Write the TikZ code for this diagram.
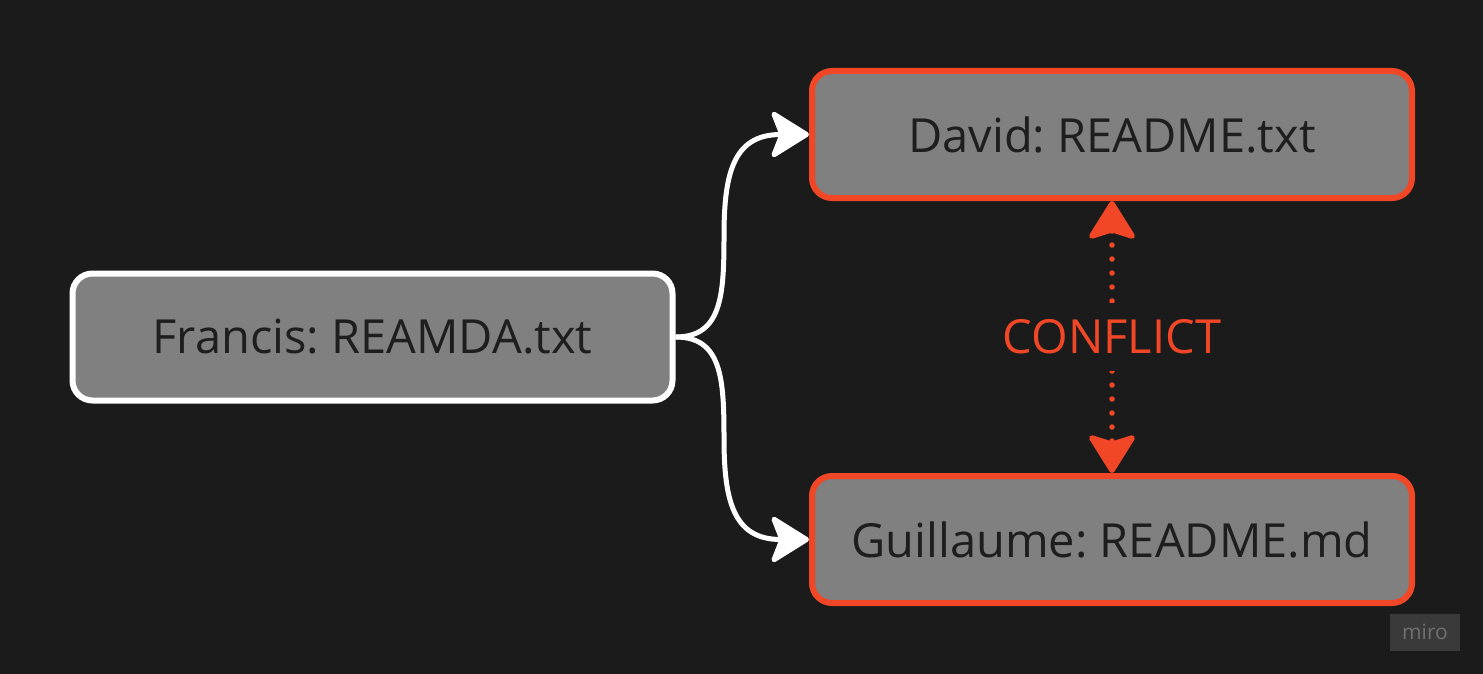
\documentclass[tikz,border=0pt]{standalone}
\usepackage{fontspec}
\setmainfont{Open Sans}
\usetikzlibrary{arrows.meta}
\definecolor{bg}{HTML}{1B1B1B}
\definecolor{boxfill}{HTML}{808080}
\definecolor{conf}{HTML}{F24726}
\definecolor{txt}{HTML}{1E1E1E}
\definecolor{mirobox}{HTML}{3A3A3A}
\definecolor{mirotxt}{HTML}{707070}
\frenchspacing
\begin{document}
\begin{tikzpicture}[x=1pt,y=-1pt,
  filebox/.style={draw, line width=6pt, fill=boxfill, rounded corners=20pt,
    minimum width=600pt, minimum height=127pt, inner sep=0pt, text=txt,
    font=\fontsize{47}{56}\selectfont},
  flow/.style={draw=white, line width=5pt, line join=round,
    -{Stealth[length=42pt,width=52pt,inset=10pt,round]}},
  conflictline/.style={draw=conf, line width=5.5pt, line cap=round,
    dash pattern=on 0pt off 14pt,
    {Stealth[length=42pt,width=52pt,inset=8pt,round]}-{Stealth[length=42pt,width=52pt,inset=8pt,round]}},
  conflictlabel/.style={fill=bg, text=conf, inner xsep=4pt, inner ysep=17pt,
    font=\fontsize{47}{56}\selectfont}
]
\fill[bg] (0,0) rectangle (1483,674);

\node[filebox, draw=white] (f) at (372.5,337) {Francis: REAMDA.txt};
\node[filebox, draw=conf] (d) at (1112,134.5) {David: README.txt};
\node[filebox, draw=conf] (g) at (1112,539.5) {Guillaume: README.md};

\coordinate (m1) at (724,236);
\coordinate (m2) at (724,438);

\draw[flow] (f.east) .. controls +(46,0) and +(0,60) .. (m1)
  .. controls +(0,-62) and +(-76,0) .. (d.west);
\draw[flow] (f.east) .. controls +(46,0) and +(0,-60) .. (m2)
  .. controls +(0,62) and +(-76,0) .. (g.west);

\draw[conflictline] (d) -- node[conflictlabel] (cl) {CONFLICT} (g);

\node[fill=mirobox, minimum width=70pt, minimum height=37pt, inner sep=0pt,
  text=mirotxt, font=\fontsize{21}{24}\selectfont] (miro) at (1425,632) {miro};
\end{tikzpicture}
\end{document}
